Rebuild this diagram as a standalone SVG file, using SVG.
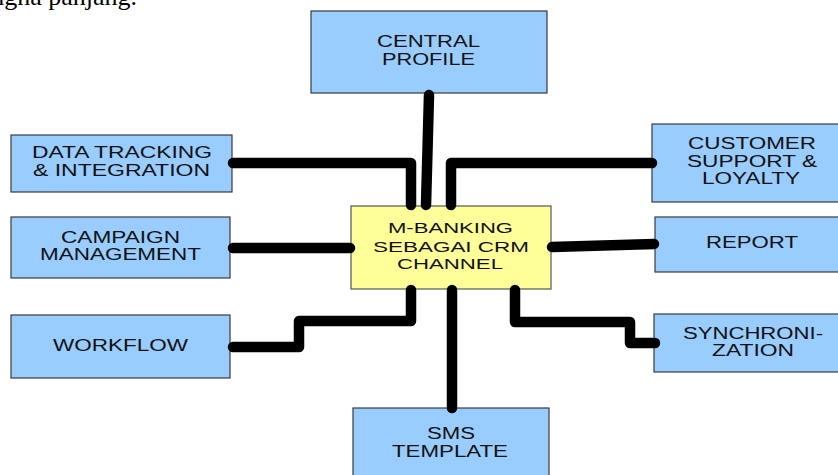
<svg xmlns="http://www.w3.org/2000/svg" width="838" height="475" viewBox="0 0 838 475">
<style>
.box{fill:#99CCFF;stroke:#3a3a3a;stroke-width:1.2}
.core{fill:#FFFF99;stroke:#555555;stroke-width:1.2}
.lbl{font-family:"Liberation Sans",Arial,sans-serif;font-size:16px;fill:#111111;text-anchor:start}
.lblc{font-family:"Liberation Sans",Arial,sans-serif;font-size:15px;fill:#111111;text-anchor:start}
.conn{fill:none;stroke:#000000;stroke-width:10.5;stroke-linecap:round;stroke-linejoin:round}
.doc{font-family:"Liberation Serif","Times New Roman",serif;font-size:26px;fill:#000000}
</style>
<rect width="838" height="475" fill="#ffffff"/>
<text class="doc" x="137" y="5" text-anchor="end">ngna panjang.</text>

<g id="central-profile">
<rect class="box" x="311" y="11" width="236" height="82"/>
<text class="lbl" x="377" y="47" textLength="103" lengthAdjust="spacingAndGlyphs">CENTRAL</text>
<text class="lbl" x="382" y="65" textLength="93" lengthAdjust="spacingAndGlyphs">PROFILE</text>
</g>
<g id="data-tracking">
<rect class="box" x="11" y="135" width="221" height="57"/>
<text class="lbl" x="32" y="158" textLength="180" lengthAdjust="spacingAndGlyphs">DATA TRACKING</text>
<text class="lbl" x="33" y="176" textLength="177" lengthAdjust="spacingAndGlyphs">&amp; INTEGRATION</text>
</g>
<g id="campaign">
<rect class="box" x="11" y="217" width="219" height="61"/>
<text class="lbl" x="61" y="243" textLength="119" lengthAdjust="spacingAndGlyphs">CAMPAIGN</text>
<text class="lbl" x="40" y="260" textLength="161" lengthAdjust="spacingAndGlyphs">MANAGEMENT</text>
</g>
<g id="workflow">
<rect class="box" x="11" y="315" width="219" height="63"/>
<text class="lbl" x="53" y="351" textLength="135" lengthAdjust="spacingAndGlyphs">WORKFLOW</text>
</g>
<g id="customer-support">
<rect class="box" x="652" y="124" width="190" height="78"/>
<text class="lbl" x="688" y="149" textLength="128" lengthAdjust="spacingAndGlyphs">CUSTOMER</text>
<text class="lbl" x="687" y="167" textLength="130" lengthAdjust="spacingAndGlyphs">SUPPORT &amp;</text>
<text class="lbl" x="702" y="184" textLength="98" lengthAdjust="spacingAndGlyphs">LOYALTY</text>
</g>
<g id="report">
<rect class="box" x="655" y="217" width="187" height="55"/>
<text class="lbl" x="706" y="248" textLength="92" lengthAdjust="spacingAndGlyphs">REPORT</text>
</g>
<g id="synchronization">
<rect class="box" x="654" y="314" width="188" height="58"/>
<text class="lbl" x="683" y="339" textLength="140" lengthAdjust="spacingAndGlyphs">SYNCHRONI-</text>
<text class="lbl" x="712" y="356" textLength="82" lengthAdjust="spacingAndGlyphs">ZATION</text>
</g>
<g id="sms-template">
<rect class="box" x="353" y="408" width="196" height="72"/>
<text class="lbl" x="427" y="439" textLength="48" lengthAdjust="spacingAndGlyphs">SMS</text>
<text class="lbl" x="392" y="457" textLength="116" lengthAdjust="spacingAndGlyphs">TEMPLATE</text>
</g>
<g id="m-banking">
<rect class="core" x="351" y="206" width="200" height="83"/>
<text class="lblc" x="388" y="233" textLength="125" lengthAdjust="spacingAndGlyphs">M-BANKING</text>
<text class="lblc" x="373" y="252" textLength="156" lengthAdjust="spacingAndGlyphs">SEBAGAI CRM</text>
<text class="lblc" x="397" y="269" textLength="106" lengthAdjust="spacingAndGlyphs">CHANNEL</text>
</g>

<g id="connectors">
<path class="conn" d="M429,95 L426,205"/>
<path class="conn" d="M233,163 H411 V205"/>
<path class="conn" d="M652,163 H451 V205"/>
<path class="conn" d="M233,248 H350"/>
<path class="conn" d="M552,247 L654,244"/>
<path class="conn" d="M233,347 H299 V321 H411 V290"/>
<path class="conn" d="M452,290 V408"/>
<path class="conn" d="M515,290 V322 H630 V343 H655"/>
</g>
</svg>
